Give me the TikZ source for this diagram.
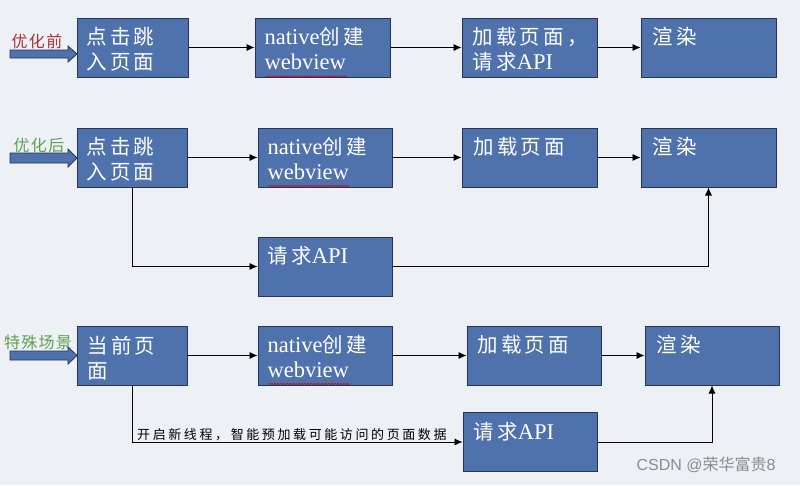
\documentclass[tikz,border=0pt]{standalone}
\usepackage{fontspec}
\setmainfont{Liberation Serif}
\newfontfamily\cjk[LetterSpace=15]{Noto Sans CJK SC}
\newfontfamily\cjknote[LetterSpace=20]{Noto Sans CJK SC}
\newfontfamily\cjkside[LetterSpace=8]{Noto Sans CJK SC}
\newfontfamily\cjkplain{Noto Sans CJK SC}
\newfontfamily\wmfont{Liberation Sans}
\usetikzlibrary{arrows.meta,decorations.pathmorphing,calc}
\definecolor{bg}{RGB}{237,240,245}
\definecolor{boxblue}{RGB}{79,114,172}
\definecolor{boxline}{RGB}{38,52,88}
\definecolor{lblred}{RGB}{170,50,50}
\definecolor{lblgreen}{RGB}{95,160,80}
\tikzset{
  box/.style={draw=boxline, fill=boxblue, line width=1pt, rectangle, inner sep=0pt, minimum height=59pt},
  btxt/.style={anchor=north west, inner sep=0pt, align=left, text=white, font=\fontsize{20.5}{25}\selectfont\cjk},
  arr/.style={draw=black, line width=0.8pt, -{Latex[length=8pt,width=7pt]}},
  fat/.style={draw=boxline, fill=boxblue, line width=0.8pt},
  side/.style={anchor=center, inner sep=0pt, font=\fontsize{16}{18}\selectfont\cjkside},
  wavy/.style={draw=red!80!black, line width=0.5pt, decorate, decoration={snake, segment length=3pt, amplitude=0.7pt}}
}
\newcommand\lt[1]{{\fontsize{22.5}{25}\selectfont\rmfamily #1}}
\begin{document}
\begin{tikzpicture}[x=1pt,y=-1pt]
\fill[bg] (0,0) rectangle (800,485);
\useasboundingbox (0,0) rectangle (800,485);
% row 1
\node[box, minimum width=111] (a1) at (132.5,47.5) {};
\node[box, minimum width=135] (b1) at (322.5,47.5) {};
\node[box, minimum width=135] (c1) at (529.5,47.5) {};
\node[box, minimum width=135] (d1) at (708.5,47.5) {};
\node[btxt] (a1t) at ($(a1.north west)+(10,10)$) {点击跳\\入页面};
\node[btxt] (b1t) at ($(b1.north west)+(10,10)$) {\lt{native}创建\\\lt{webview}};
\node[btxt] (c1t) at ($(c1.north west)+(11,10)$) {加载页面，\\请求\lt{API}};
\node[btxt] (d1t) at ($(d1.north west)+(12,10)$) {渲染};
\draw[arr] (a1) -- (b1);
\draw[arr] (b1) -- (c1);
\draw[arr] (c1) -- (d1);
\draw[wavy] (265,76.5) -- (347,76.5);
\node[side, text=lblred] (l1) at (37,41) {优化前};
\draw[fat] (10,50) -- (68,50) -- (68,46) -- (77,54) -- (68,62) -- (68,58) -- (10,58) -- cycle;
% row 2
\node[box, minimum width=110] (a2) at (132,157.5) {};
\node[box, minimum width=134] (b2) at (325,157.5) {};
\node[box, minimum width=135] (c2) at (529.5,157.5) {};
\node[box, minimum width=135] (d2) at (708.5,157.5) {};
\node[box, minimum width=134] (api2) at (325,266.5) {};
\node[btxt] (a2t) at ($(a2.north west)+(10,10)$) {点击跳\\入页面};
\node[btxt] (b2t) at ($(b2.north west)+(10,10)$) {\lt{native}创建\\\lt{webview}};
\node[btxt] (c2t) at ($(c2.north west)+(12,10)$) {加载页面};
\node[btxt] (d2t) at ($(d2.north west)+(12,10)$) {渲染};
\node[btxt] (api2t) at ($(api2.north west)+(10,10)$) {请求\lt{API}};
\draw[arr] (a2) -- (b2);
\draw[arr] (b2) -- (c2);
\draw[arr] (c2) -- (d2);
\draw[arr] (a2.south) |- (api2.west);
\draw[arr] (api2.east) -| (d2.south);
\draw[wavy] (268,186) -- (350,186);
\node[side, text=lblgreen] (l2) at (39,145) {优化后};
\draw[fat] (10,153) -- (68,153) -- (68,149) -- (77,158) -- (68,167) -- (68,163) -- (10,163) -- cycle;
% row 3
\node[box, minimum width=110] (a3) at (132,355.5) {};
\node[box, minimum width=134] (b3) at (325,355.5) {};
\node[box, minimum width=134] (c3) at (534,355.5) {};
\node[box, minimum width=134] (d3) at (712,355.5) {};
\node[box, minimum width=134] (api3) at (530,442) {};
\node[btxt] (a3t) at ($(a3.north west)+(11,10)$) {当前页\\面};
\node[btxt] (b3t) at ($(b3.north west)+(10,10)$) {\lt{native}创建\\\lt{webview}};
\node[btxt] (c3t) at ($(c3.north west)+(11,10)$) {加载页面};
\node[btxt] (d3t) at ($(d3.north west)+(12,10)$) {渲染};
\node[btxt] (api3t) at ($(api3.north west)+(11,10)$) {请求\lt{API}};
\draw[arr] (a3) -- (b3);
\draw[arr] (b3) -- (c3);
\draw[arr] (c3) -- (d3);
\draw[arr] (a3.south) |- (api3.west);
\draw[arr] (api3.east) -| (d3.south);
\draw[wavy] (268,384) -- (350,384);
\node[anchor=base west, inner sep=0pt, font=\fontsize{13}{15}\selectfont\cjknote] (note) at (137,439) {开启新线程，智能预加载可能访问的页面数据};
\node[side, text=lblgreen] (l3) at (38,342) {特殊场景};
\draw[fat] (10,351) -- (68,351) -- (68,347) -- (77,355.5) -- (68,364) -- (68,360) -- (10,360) -- cycle;
% watermark
\node[anchor=center, inner sep=0pt, text=black!45, font=\fontsize{16}{18}\selectfont\wmfont] (wm) at (706,465) {CSDN @{\cjkplain 荣华富贵}8};
\end{tikzpicture}
\end{document}
